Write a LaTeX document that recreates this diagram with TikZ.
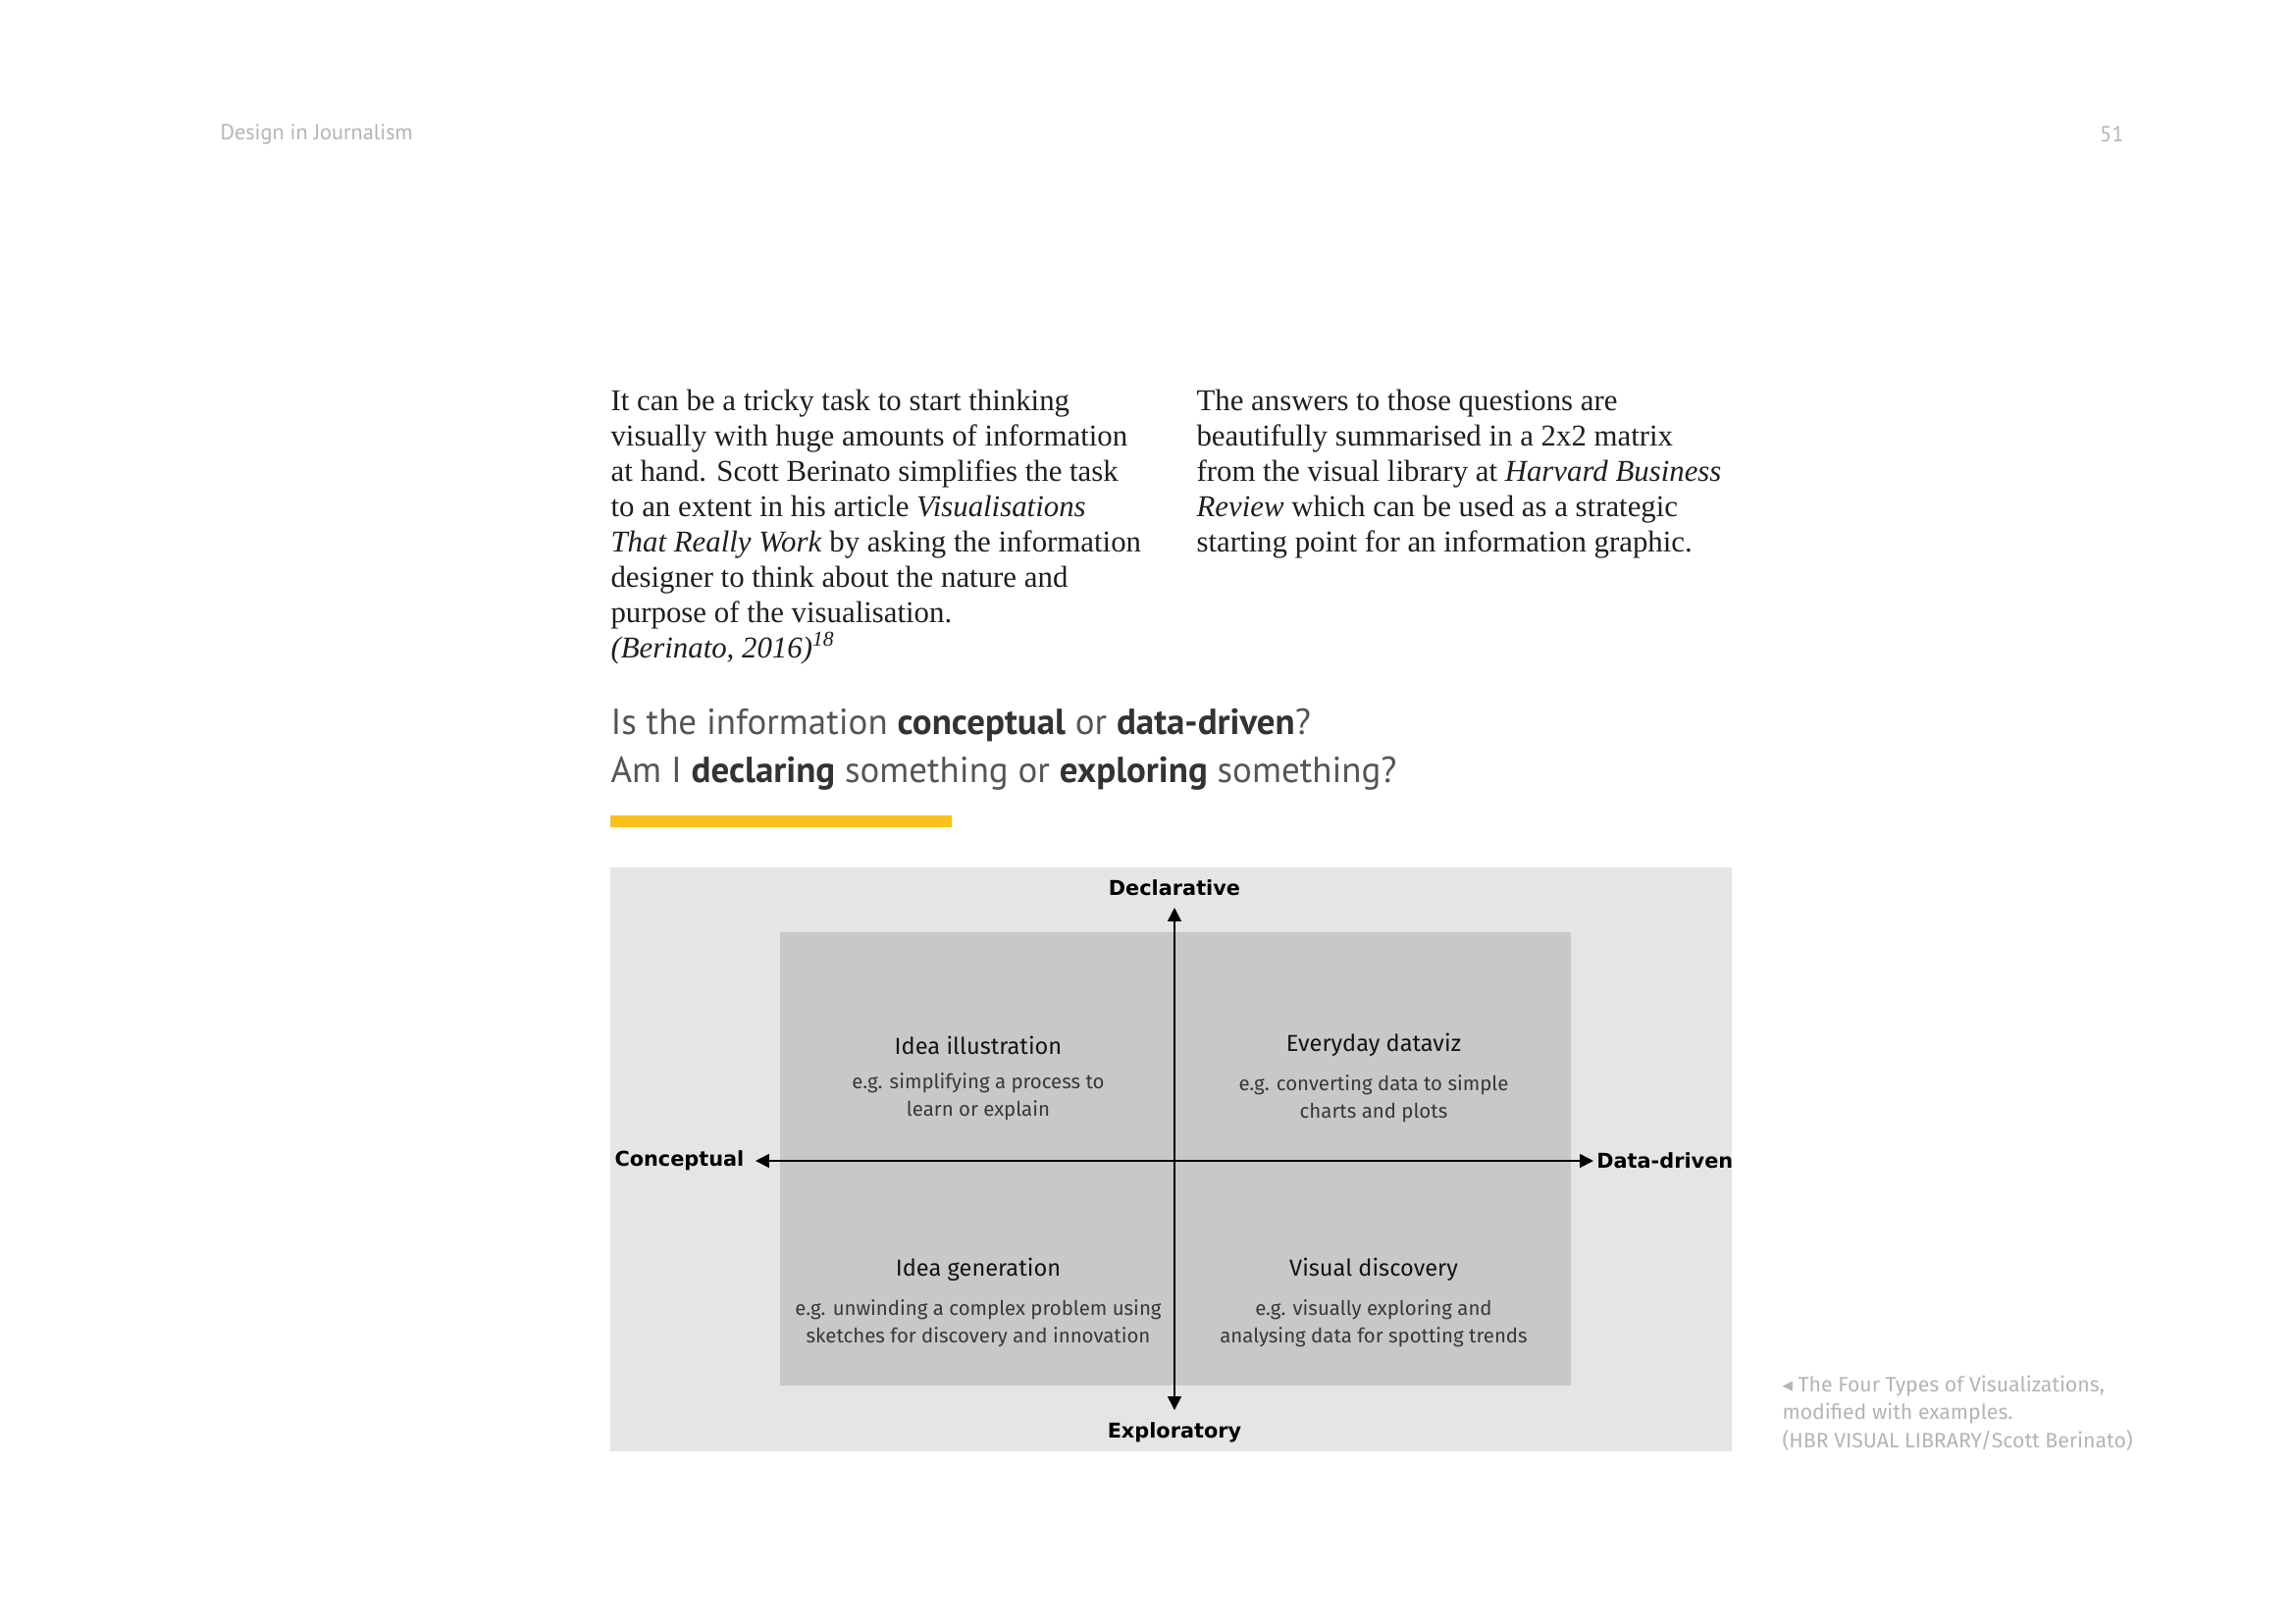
\documentclass[tikz,border=0pt]{standalone}
\usepackage{fontspec}
\setmainfont{Liberation Serif}
\newfontfamily\headfont{PT Sans}
\newfontfamily\vizfont{Fira Sans}
\newfontfamily\symfont{DejaVu Sans}
\usetikzlibrary{positioning,arrows.meta}
\definecolor{panelgray}{HTML}{E6E5E3}
\definecolor{boxgray}{HTML}{C7C8C7}
\definecolor{baryellow}{HTML}{F8C21A}
\definecolor{inkgray}{HTML}{555555}
\definecolor{notegray}{HTML}{B4B4B4}
\tikzset{
  pagehead/.style={inner sep=0pt, text=notegray, font=\headfont\fontsize{8}{10}\selectfont},
  body/.style={anchor=base west, align=left, inner sep=0pt, text=black!88, font=\fontsize{11.1}{12.96}\selectfont},
  question/.style={anchor=base west, align=left, inner sep=0pt, text=inkgray, font=\headfont\fontsize{13.3}{17.3}\selectfont},
  axislabel/.style={inner sep=0pt, font=\symfont\bfseries\fontsize{7.5}{9}\selectfont},
  quadtitle/.style={inner sep=0pt, text=black!92, font=\vizfont\fontsize{8.5}{10}\selectfont},
  quadtext/.style={inner sep=0pt, align=center, text=black!78, font=\vizfont\fontsize{7.35}{10.1}\selectfont},
  note/.style={anchor=base west, align=left, inner sep=0pt, text=notegray, font=\vizfont\fontsize{7.65}{10.26}\selectfont},
  axis/.style={<->, >={Triangle[length=5pt,width=5pt]}, line width=0.55pt}
}
\begin{document}
\begin{tikzpicture}[x=0.36pt, y=-0.36pt]
\useasboundingbox (0,0) rectangle (2339,1654);
\node[pagehead, anchor=west] (chapter) at (224,137) {Design in Journalism};
\node[pagehead, anchor=east] (pageno) at (2165,137) {51};
\node[body] (colA) at (622,670) {It can be a tricky task to start thinking\\
visually with huge amounts of information\\
at hand. Scott Berinato simplifies the task\\
to an extent in his article \textit{Visualisations}\\
\textit{That Really Work} by asking the information\\
designer to think about the nature and\\
purpose of the visualisation.\\
\textit{(Berinato, 2016)}\textsuperscript{\textit{18}}};
\node[body] (colB) at (1219,562) {The answers to those questions are\\
beautifully summarised in a 2x2 matrix\\
from the visual library at \textit{Harvard Business}\\
\textit{Review} which can be used as a strategic\\
starting point for an information graphic.};
\node[question] (ask) at (622,797) {Is the information \textcolor{black!80}{\bfseries conceptual} or \textcolor{black!80}{\bfseries data-driven}?\\
Am I \textcolor{black!80}{\bfseries declaring} something or \textcolor{black!80}{\bfseries exploring} something?};
\fill[baryellow] (622,831) rectangle (970,843);
\fill[panelgray] (622,884) rectangle (1765,1479);
\fill[boxgray] (795,950) rectangle (1601,1412);
\coordinate (top) at (1197,925);
\coordinate (bottom) at (1197,1437);
\coordinate (left) at (770,1183);
\coordinate (right) at (1624,1183);
\draw[axis] (top) -- (bottom);
\draw[axis] (left) -- (right);
\node[axislabel, above=4.3pt of top] (decl) {Declarative};
\node[axislabel, below=4.3pt of bottom] (expl) {Exploratory};
\node[axislabel, left=4pt of left] (conc) {Conceptual};
\node[axislabel, right=1pt of right] (data) {Data-driven};
\node[quadtitle] (ill) at (997,1065) {Idea illustration};
\node[quadtext, below=6.5pt of ill] (illsub) {e.g. simplifying a process to\\learn or explain};
\node[quadtitle] (dviz) at (1400,1065) {Everyday dataviz};
\node[quadtext, below=6.5pt of dviz] (dvizsub) {e.g. converting data to simple\\charts and plots};
\node[quadtitle] (gen) at (997,1294) {Idea generation};
\node[quadtext, below=6.5pt of gen] (gensub) {e.g. unwinding a complex problem using\\sketches for discovery and innovation};
\node[quadtitle] (disc) at (1400,1294) {Visual discovery};
\node[quadtext, below=6.5pt of disc] (discsub) {e.g. visually exploring and\\analysing data for spotting trends};
\node[note] (caption) at (1816,1475) {{\symfont\fontsize{7.5}{10.26}\selectfont ◂} The Four Types of Visualizations,\\
modified with examples.\\
(HBR VISUAL LIBRARY/Scott Berinato)};
\end{tikzpicture}
\end{document}
